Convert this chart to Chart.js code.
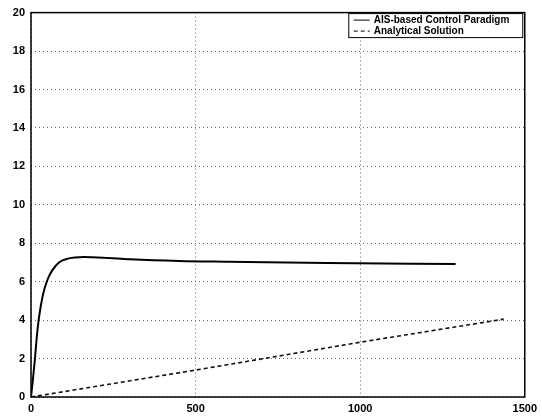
<!DOCTYPE html>
<html>
<head>
<meta charset="utf-8">
<script src="https://cdn.jsdelivr.net/npm/chart.js@4/dist/chart.umd.min.js"></script>
<style>
  html, body { margin: 0; padding: 0; background: #fff; }
</style>
</head>
<body>
<canvas id="myChart" width="542" height="419"></canvas>
<script>
"use strict";

// AIS-based control paradigm (solid)
var aisX = [0, 4, 8, 12, 18, 24, 36, 50, 65, 85, 113, 160, 220, 300, 450, 600, 900, 1290];
var aisY = [0, 0.6, 1.3, 2.0, 3.2, 4.1, 5.3, 6.1, 6.6, 7.0, 7.2, 7.28, 7.25, 7.17, 7.08, 7.04, 6.97, 6.92];

// analytical solution (dashed)
var anaX = [0, 500, 1000, 1436];
var anaY = [0, 1.4, 2.85, 4.05];

var xTicks = [0, 500, 1000, 1500];
var yTicks = [0, 2, 4, 6, 8, 10, 12, 14, 16, 18, 20];
var seriesNames = ["AIS-based Control Paradigm", "Analytical Solution"];

function pts(xs, ys) {
    return xs.map(function (x, i) { return {x: x, y: ys[i]}; });
}

// frame box and legend inside the axes, like matlab
var framePlugin = {
    id: "frame",
    afterDraw: function (chart) {
        var ctx = chart.ctx, a = chart.chartArea;
        ctx.save();
        ctx.strokeStyle = "#000";
        ctx.lineWidth = 1.5;
        ctx.strokeRect(a.left, a.top, a.right - a.left, a.bottom - a.top);

        var bw = 174, bh = 24;
        var bx = a.right - 2 - bw, by = a.top + 1;
        ctx.fillStyle = "#fff";
        ctx.fillRect(bx, by, bw, bh);
        ctx.lineWidth = 1;
        ctx.strokeRect(bx, by, bw, bh);
        ctx.font = "bold 10px 'Liberation Sans', Arial, sans-serif";
        ctx.textBaseline = "middle";
        chart.data.datasets.forEach(function (ds, i) {
            var yy = by + 6.5 + i * 11;
            ctx.strokeStyle = "#000";
            ctx.lineWidth = 1;
            ctx.setLineDash(ds.borderDash || []);
            ctx.beginPath();
            ctx.moveTo(bx + 5, yy);
            ctx.lineTo(bx + 21, yy);
            ctx.stroke();
            ctx.setLineDash([]);
            ctx.fillStyle = "#000";
            ctx.fillText(ds.label, bx + 25, yy);
        });
        ctx.restore();
    }
};

var gridOpts = {color: "#666", lineWidth: 1, tickLength: 0, drawTicks: false};
var borderOpts = {display: false, dash: [1, 3]};
var tickFont = {family: "'Liberation Sans', Arial, sans-serif", size: 11, weight: "bold"};

var ctx = document.getElementById("myChart").getContext("2d");
var chart = new Chart(ctx, {
    type: "line",
    data: {
        datasets: [{
            label: seriesNames[0],
            data: pts(aisX, aisY),
            borderColor: "#000",
            borderWidth: 2,
            pointRadius: 0,
            fill: false,
            cubicInterpolationMode: "monotone"
        }, {
            label: seriesNames[1],
            data: pts(anaX, anaY),
            borderColor: "#111",
            borderWidth: 1.6,
            borderDash: [4, 3],
            pointRadius: 0,
            fill: false
        }]
    },
    options: {
        responsive: false,
        animation: false,
        devicePixelRatio: 1,
        layout: {padding: {left: 0, right: 16, top: 10, bottom: 0}},
        plugins: {legend: {display: false}, tooltip: {enabled: false}},
        scales: {
            x: {
                type: "linear",
                min: 0, max: 1500,
                afterBuildTicks: function (s) { s.ticks = xTicks.map(function (v) { return {value: v}; }); },
                afterFit: function (s) { s.height = 22; },
                grid: gridOpts,
                border: borderOpts,
                ticks: {color: "#000", font: tickFont, padding: 5, maxRotation: 0, autoSkip: false,
                        callback: function (v) { return String(v); }}
            },
            y: {
                type: "linear",
                min: 0, max: 20,
                afterBuildTicks: function (s) { s.ticks = yTicks.map(function (v) { return {value: v}; }); },
                afterFit: function (s) { s.width = 31; },
                grid: gridOpts,
                border: borderOpts,
                ticks: {color: "#000", font: tickFont, padding: 6, autoSkip: false,
                        callback: function (v) { return String(v); }}
            }
        }
    },
    plugins: [framePlugin]
});
</script>
</body>
</html>
